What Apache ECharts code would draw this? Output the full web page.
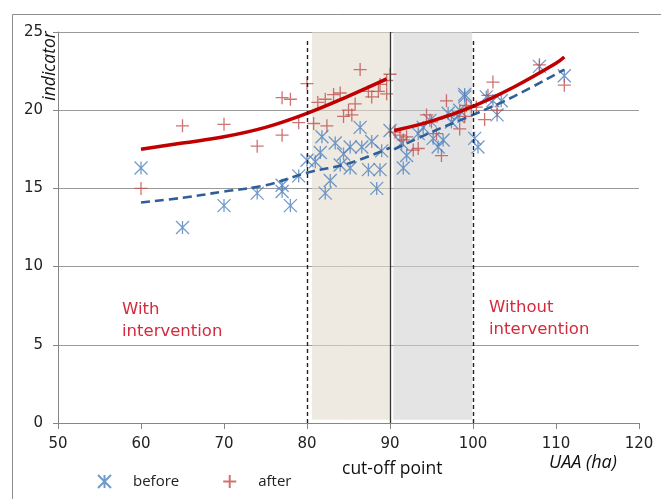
<!DOCTYPE html>
<html><head><meta charset="utf-8">
<script src="https://cdn.jsdelivr.net/npm/echarts@6/dist/echarts.min.js"></script>
<style>html,body{margin:0;padding:0;background:#fff}#c{width:661px;height:499px}</style>
</head><body><div id="c"></div>
<script>
const before = [[60,16.3],[65,12.5],[70,13.9],[74,14.7],[77,15.2],[77,14.8],[78,13.9],[79,15.8],[80,16.8],
[81,16.7],[81.6,17.3],[81.8,18.3],[82.2,14.7],[82.8,15.5],[83.4,17.9],[84,16.5],[84.4,17.2],[85.2,17.65],[85.2,16.3],[86.4,18.9],[86.6,17.65],[87.4,16.2],[87.8,18.0],[88.4,15.0],[88.8,16.2],[89,17.4],[90,18.7],
[91.4,17.9],[91.6,16.3],[92,17.1],[93.4,18.5],[94,18.9],[94.8,19.35],[95.2,18.2],[95.8,17.65],[96.4,18.1],[97,19.8],[97.4,19.25],[98.2,19.6],[98.4,20.0],[99,21.0],[99,20.85],
[100.2,18.2],[100.6,17.65],[101.6,20.85],[102.4,20.6],[102.9,19.7],[103.4,20.6],[108,22.8],[111,22.2]];
const after = [[60,15.0],[65,19.0],[70,19.1],[74,17.7],[77,18.4],[77,20.8],[78,20.7],[79,19.2],[80,21.7],
[80.8,19.15],[81.3,20.5],[82.2,20.7],[82.4,19.0],[83.2,21.0],[84,21.1],[84.4,19.6],[85,20.0],[85.4,19.7],[85.8,20.4],[86.4,22.6],[87.4,21.2],[87.8,20.85],[88.6,21.2],[88.8,21.65],[89.6,21.05],[89.6,21.9],[90,22.3],
[90.6,18.6],[91.2,18.4],[91.6,18.1],[92,18.3],[92.8,17.45],[93.4,17.55],[94.4,19.7],[95,19.25],[95.6,18.5],[96.2,17.1],[96.8,20.6],[98.4,18.8],[99,19.6],[99.2,20.3],[99.8,20.2],
[100.4,20.2],[101.4,19.4],[101.8,20.95],[102.4,21.8],[102.9,20.0],[108,22.9],[111,21.6]];
const beforeFitLeft = [[60,14.1],[65,14.4],[70,14.8],[75,15.2],[80,16.0],[85,16.6],[90,17.6]];
const beforeFitRight = [[90.5,17.5],[95,18.6],[100,19.7],[105,20.9],[111,22.6]];
const afterFitLeft = [[60,17.5],[65,17.9],[70,18.3],[75,18.9],[80,19.8],[85,20.9],[89.6,22.0]];
const afterFitRight = [[90.5,18.7],[95,19.3],[100,20.25],[105,21.5],[110,23.0],[111,23.4]];
const bands = [[80.6,90],[90.4,99.9]];
const bandColors = ['rgba(226,220,206,0.6)','rgba(210,210,210,0.6)'];
const bandEdges = [80,100];
const cutoff = 90;
const xTicks = {min:50,max:120,step:10};
const yTicks = {min:0,max:25,step:5};

const STAR = 'path://M0,0L20,20M0,20L20,0M10,0L10,20';
const PLUS = 'path://M10,0L10,20M0,10L20,10';
const blue = '#4f81bd', red = '#c0504d';
const chart = echarts.init(document.getElementById('c'));
chart.setOption({
  animation:false,
  backgroundColor:'#fff',
  grid:{left:58,top:32,right:22,bottom:76},
  xAxis:{type:'value',min:xTicks.min,max:xTicks.max,interval:xTicks.step,
    axisLine:{lineStyle:{color:'#868686'}},axisTick:{show:true,length:6,lineStyle:{color:'#868686'}},
    axisLabel:{color:'#222',fontFamily:'DejaVu Sans',fontSize:15,margin:14},splitLine:{show:false}},
  yAxis:{type:'value',min:yTicks.min,max:yTicks.max,interval:yTicks.step,
    axisLine:{show:true,lineStyle:{color:'#868686'}},axisTick:{show:true,length:5,lineStyle:{color:'#868686'}},
    axisLabel:{color:'#222',fontFamily:'DejaVu Sans',fontSize:15,margin:15},
    splitLine:{lineStyle:{color:'#9a9a9a'}}},
  legend:{left:92,top:469,itemWidth:13,itemHeight:13,itemGap:43,
    textStyle:{fontFamily:'Open Sans',fontSize:15,color:'#222',padding:[0,0,0,17]},
    data:[{name:'before',icon:STAR},{name:'after',icon:PLUS}]},
  graphic:[
    {type:'rect',shape:{x:12.5,y:14.5,width:700,height:600},style:{fill:'none',stroke:'#8c8c8c',lineWidth:1},silent:true,z:-1},
    {type:'text',left:122,top:299,style:{text:'With\nintervention',fill:'#d42a3c',font:'16.5px "DejaVu Sans"',lineHeight:22}},
    {type:'text',left:489,top:297,style:{text:'Without\nintervention',fill:'#d42a3c',font:'16.5px "DejaVu Sans"',lineHeight:22}},
    {type:'text',left:342,top:460,style:{text:'cut-off point',fill:'#111',font:'17.5px "Open Sans"'}},
    {type:'text',left:549,top:454,style:{text:'UAA (ha)',fill:'#111',font:'italic 18px "Open Sans"'}},
    {type:'text',x:50,y:66,rotation:Math.PI/2,style:{text:'indicator',fill:'#111',font:'italic 17.5px "Open Sans"',align:'center',verticalAlign:'middle'}}
  ],
  series:[
    {name:'before',type:'scatter',data:before,symbol:STAR,symbolSize:13,z:2,
      itemStyle:{color:'rgba(0,0,0,0)',borderColor:blue,borderWidth:1.3}},
    {name:'after',type:'scatter',data:after,symbol:PLUS,symbolSize:13,z:2,
      itemStyle:{color:'rgba(0,0,0,0)',borderColor:red,borderWidth:1.3}},
    {type:'line',data:afterFitLeft,smooth:0.4,showSymbol:false,z:3,lineStyle:{color:'#c00000',width:3.5}},
    {type:'line',data:afterFitRight,smooth:0.4,showSymbol:false,z:3,lineStyle:{color:'#c00000',width:3.5}},
    {type:'line',data:beforeFitLeft,smooth:0.4,showSymbol:false,z:3,lineStyle:{color:'#2f5f98',width:2.6,type:[9,5]}},
    {type:'line',data:beforeFitRight,smooth:0.4,showSymbol:false,z:3,lineStyle:{color:'#2f5f98',width:2.6,type:[9,5]}},
    {type:'line',data:[],z:10,silent:true,
      markArea:{silent:true,data:bands.map((b,i)=>[{xAxis:b[0],yAxis:0.2,itemStyle:{color:bandColors[i]}},{xAxis:b[1],yAxis:25}])},
      markLine:{silent:true,symbol:'none',label:{show:false},
        data:[
          ...bandEdges.map(v=>[{coord:[v,0],lineStyle:{color:'#222',width:1.4,type:[4,3]}},{coord:[v,24.6]}]),
          [{coord:[cutoff,0],lineStyle:{color:'#333',width:1.3,type:'solid'}},{coord:[cutoff,25]}]
        ]}}
  ]
});
</script></body></html>
